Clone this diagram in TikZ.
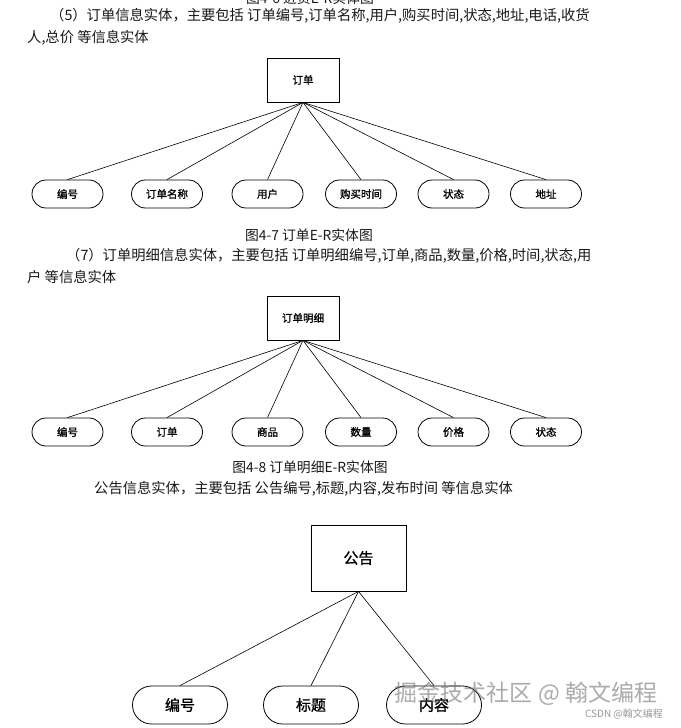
\documentclass[tikz,border=0pt]{standalone}
\usepackage{fontspec}
\newfontfamily\cjk{Noto Sans CJK SC}
\newfontfamily\cjkb[FakeBold=1.2]{Noto Sans CJK SC}
\begin{document}
\begin{tikzpicture}[x=1pt,y=-1pt,
  txt/.style={inner sep=0pt,font=\cjk\fontsize{14.3pt}{16pt}\selectfont,text=black!90},
  captxt/.style={inner sep=0pt,font=\cjk\fontsize{13.8pt}{16pt}\selectfont,text=black!90},
  ent/.style={draw,line width=0.8pt,fill=white,minimum width=72pt,minimum height=44pt,inner sep=0pt,font=\cjkb\fontsize{10.5pt}{12pt}\selectfont},
  attr/.style={draw,line width=0.8pt,rounded corners=14pt,minimum width=71pt,minimum height=28pt,inner sep=0pt,font=\cjkb\fontsize{10.5pt}{12pt}\selectfont},
  bigent/.style={draw,line width=0.8pt,fill=white,minimum width=95pt,minimum height=66pt,inner sep=0pt,font=\cjkb\fontsize{15pt}{17pt}\selectfont},
  bigattr/.style={draw,line width=0.8pt,rounded corners=19pt,minimum width=95pt,minimum height=38pt,inner sep=0pt,font=\cjkb\fontsize{15pt}{17pt}\selectfont},
  link/.style={line width=0.6pt}]
\useasboundingbox (0,0) rectangle (680,728);
\fill[white] (0,0) rectangle (680,728);
% clipped caption at top
\node[captxt,anchor=base] (cap6) at (310,3) {图4-6 进货E-R实体图};
% section 1
\node[txt,anchor=west] (p1a) at (50,16) {（5）订单信息实体，主要包括 订单编号,订单名称,用户,购买时间,状态,地址,电话,收货};
\node[txt,anchor=west] (p1b) at (27,38) {人,总价 等信息实体};
\node[ent] (o) at (303,80) {订单};
\node[attr] (a1) at (67.5,194) {编号};
\node[attr] (a2) at (167,194) {订单名称};
\node[attr] (a3) at (267.5,194) {用户};
\node[attr] (a4) at (361,194) {购买时间};
\node[attr] (a5) at (453.5,194) {状态};
\node[attr] (a6) at (546,194) {地址};
\foreach \i in {1,...,6} \draw[link] (o.south) -- (a\i.north);
\node[captxt] (cap7) at (309,235) {图4-7 订单E-R实体图};
% section 2
\node[txt,anchor=west] (p2a) at (66,256) {（7）订单明细信息实体，主要包括 订单明细编号,订单,商品,数量,价格,时间,状态,用};
\node[txt,anchor=west] (p2b) at (27,277) {户 等信息实体};
\node[ent] (d) at (303,318) {订单明细};
\node[attr] (b1) at (67.5,432) {编号};
\node[attr] (b2) at (167,432) {订单};
\node[attr] (b3) at (267.5,432) {商品};
\node[attr] (b4) at (361,432) {数量};
\node[attr] (b5) at (453.5,432) {价格};
\node[attr] (b6) at (546,432) {状态};
\foreach \i in {1,...,6} \draw[link] (d.south) -- (b\i.north);
\node[captxt] (cap8) at (310,467) {图4-8 订单明细E-R实体图};
\node[txt,anchor=west] (p3) at (94,489) {公告信息实体，主要包括 公告编号,标题,内容,发布时间 等信息实体};
% section 3
\node[bigent] (g) at (358.5,558) {公告};
\node[bigattr] (c1) at (180,705) {编号};
\node[bigattr] (c2) at (311,705) {标题};
\node[bigattr] (c3) at (434,705) {内容};
\foreach \i in {1,2,3} \draw[link] (g.south) -- (c\i.north);
% watermark
\node[inner sep=0pt,font=\cjk\fontsize{23pt}{25pt}\selectfont,text=black!60,opacity=0.55] (wm) at (526,694) {掘金技术社区 @ 翰文编程};
\node[inner sep=0pt,font=\cjk\fontsize{10pt}{12pt}\selectfont,text=black!40] (wm2) at (624,714) {CSDN @翰文编程};
\end{tikzpicture}
\end{document}
